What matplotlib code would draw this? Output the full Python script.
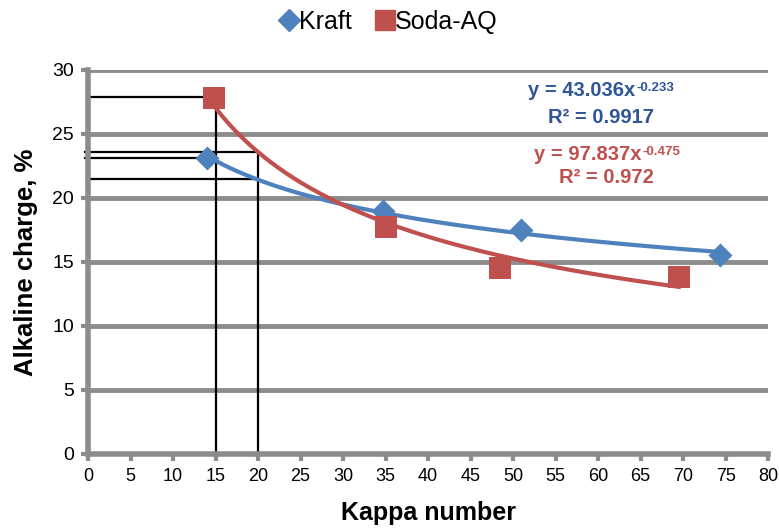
import numpy as np
import matplotlib
matplotlib.use("Agg")
import matplotlib.pyplot as plt
from matplotlib.lines import Line2D

plt.rcParams['font.family'] = ['Liberation Sans', 'DejaVu Sans']

# Measured pulping data
kraft_kappa = [14.0, 34.7, 50.9, 74.3]
kraft_charge = [23.1, 19.0, 17.5, 15.5]
soda_kappa = [14.8, 35.1, 48.5, 69.5]
soda_charge = [27.8, 17.7, 14.5, 13.8]

# Power-law fits y = a * x^b
kraft_a, kraft_b, kraft_r2 = 43.036, -0.233, 0.9917
soda_a, soda_b, soda_r2 = 97.837, -0.475, 0.972

# Read-off guide lines (target kappa -> required charge)
guide_kappa = [15, 20]
guide_soda_k15 = 27.9
guide_kraft_k15 = 23.1
guide_soda_k20 = 23.6
guide_kraft_k20 = 21.5

x_ticks = list(range(0, 85, 5))
y_ticks = list(range(0, 35, 5))

blue = '#4F81BD'
red = '#C0504D'
blue_txt = '#2F5597'
grid_c = '#8C8C8C'

fig = plt.figure(figsize=(7.79, 5.29), dpi=100)
ax = fig.add_axes([0.113, 0.142, 0.873, 0.726])

ax.set_xlim(0, 80)
ax.set_ylim(0, 30)
ax.set_xticks(x_ticks)
ax.set_yticks(y_ticks)
ax.yaxis.grid(True, color=grid_c, linewidth=3.5, zorder=0)
ax.set_axisbelow(True)
for s in ['top', 'right']:
    ax.spines[s].set_visible(False)
for s in ['left', 'bottom']:
    ax.spines[s].set_color(grid_c)
    ax.spines[s].set_linewidth(4)
ax.tick_params(axis='both', colors=grid_c, width=3, length=5,
               labelcolor='black', pad=5)
ax.tick_params(axis='x', labelsize=13)
ax.tick_params(axis='y', labelsize=14)

# Guide lines
lkw = dict(color='black', linewidth=1.6, zorder=2, clip_on=False)
ax.plot([guide_kappa[0], guide_kappa[0]], [0, guide_soda_k15 + 0.1], **lkw)
ax.plot([guide_kappa[1], guide_kappa[1]], [0, guide_soda_k20], **lkw)
ax.plot([0.2, guide_kappa[0]], [guide_soda_k15, guide_soda_k15], **lkw)
ax.plot([-0.3, guide_kappa[1]], [guide_soda_k20, guide_soda_k20], **lkw)
ax.plot([-0.3, guide_kappa[0]], [guide_kraft_k15, guide_kraft_k15], **lkw)
ax.plot([-0.1, guide_kappa[1]], [guide_kraft_k20, guide_kraft_k20], **lkw)

# Trend lines
xk = np.linspace(min(kraft_kappa), max(kraft_kappa), 200)
ax.plot(xk, kraft_a * xk ** kraft_b, color=blue, linewidth=3, zorder=3)
xs = np.linspace(min(soda_kappa), max(soda_kappa), 200)
ax.plot(xs, soda_a * xs ** soda_b, color=red, linewidth=3, zorder=3)

# Data points
ax.scatter(kraft_kappa, kraft_charge, marker='D', s=150, color=blue, zorder=4,
           linewidths=0)
ax.scatter(soda_kappa, soda_charge, marker='s', s=260, color=red, zorder=4,
           linewidths=0)

# Trend-line equations
eq_kw = dict(fontsize=14.5, fontweight='bold', ha='center', va='center')
ax.text(60.3, 28.4, f'y = {kraft_a:.3f}x', color=blue_txt, **eq_kw)
ax.text(60.3, 26.3, f'R² = {kraft_r2}', color=blue_txt, **eq_kw)
ax.text(61.0, 23.4, f'y = {soda_a:.3f}x', color=red, **eq_kw)
ax.text(61.0, 21.6, f'R² = {soda_r2}', color=red, **eq_kw)

# Exponents drawn as superscripts after the base text
fig.canvas.draw()
rend = fig.canvas.get_renderer()
inv = ax.transData.inverted()
for t, b, col in [(ax.texts[0], kraft_b, blue_txt), (ax.texts[2], soda_b, red)]:
    sup = fig.text(0, 0, f'-{abs(b):.3f}', fontsize=9.5, fontweight='bold', color=col)
    sw = sup.get_window_extent(rend).width
    x0, y0 = t.get_position()
    dx = inv.transform((sw / 2, 0))[0] - inv.transform((0, 0))[0]
    t.set_position((x0 - dx, y0))
    fig.canvas.draw()
    bb = t.get_window_extent(rend)
    sup.set_position(fig.transFigure.inverted().transform((bb.x1 + 1, bb.y1 - 10)))

ax.set_xlabel('Kappa number', fontsize=18, fontweight='bold', labelpad=12)
ax.set_ylabel('Alkaline charge, %', fontsize=18.5, fontweight='bold', labelpad=10)

handles = [Line2D([], [], marker='D', color=blue, linestyle='none', markersize=11),
           Line2D([], [], marker='s', color=red, linestyle='none', markersize=15)]
fig.legend(handles, ['Kraft', 'Soda-AQ'], loc='center', bbox_to_anchor=(0.497, 0.958),
           ncol=2, frameon=False, fontsize=18, handletextpad=-0.1,
           columnspacing=0.8, handlelength=1.0)

fig.savefig('out.png', dpi=100)
